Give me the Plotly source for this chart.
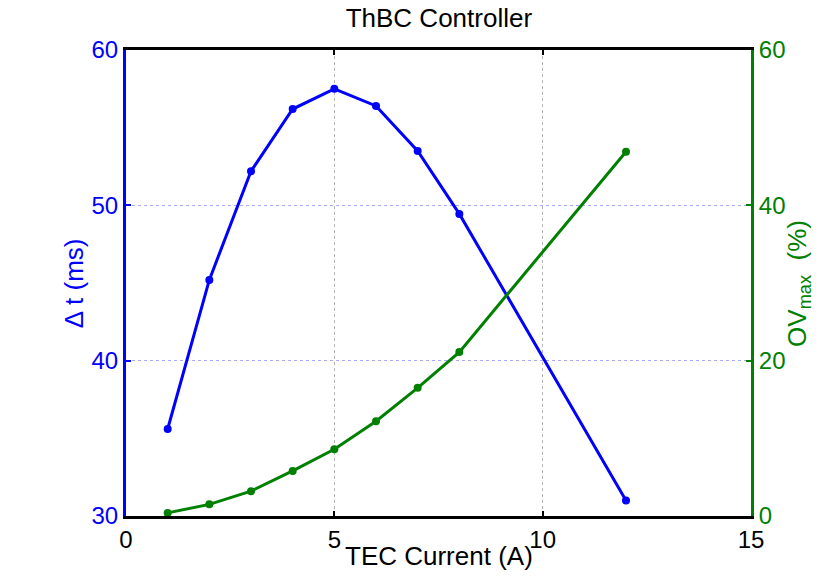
import plotly.graph_objects as go

current = [1, 2, 3, 4, 5, 6, 7, 8, 12]
delta_t = [35.6, 45.2, 52.2, 56.2, 57.5, 56.4, 53.5, 49.45, 31.0]
ov_max = [0.4, 1.5, 3.2, 5.8, 8.6, 12.2, 16.5, 21.1, 46.9]

x_ticks = [0, 5, 10, 15]
y1_ticks = [30, 40, 50, 60]
y2_ticks = [0, 20, 40, 60]

BLUE = "#0000ff"
GREEN = "#008000"
FONT = "Liberation Sans, Arial, sans-serif"
TICK = 24
LAB = 26

fig = go.Figure()
fig.add_trace(go.Scatter(x=current, y=delta_t, mode="lines+markers",
                         line=dict(color=BLUE, width=3),
                         marker=dict(color=BLUE, size=8),
                         yaxis="y", showlegend=False))
fig.add_trace(go.Scatter(x=current, y=ov_max, mode="lines+markers",
                         line=dict(color=GREEN, width=3),
                         marker=dict(color=GREEN, size=8),
                         yaxis="y2", showlegend=False))

fig.update_layout(
    width=825, height=583,
    margin=dict(l=126, r=74, t=50, b=67),
    paper_bgcolor="white", plot_bgcolor="white",
    font=dict(family=FONT, size=TICK, color="black"),
    title=dict(text="ThBC Controller", x=0.532, xanchor="center", y=0.969, yanchor="middle",
               font=dict(family=FONT, size=LAB, color="black")),
    xaxis=dict(range=[0, 15], tickvals=x_ticks, ticktext=[str(v) for v in x_ticks],
               showgrid=True, gridcolor="#b4b4b4", griddash="dot", gridwidth=1,
               showline=True, linecolor="black", linewidth=3, mirror="ticks",
               ticks="inside", ticklen=5, tickwidth=2, tickcolor="black",
               zeroline=False,
               tickfont=dict(family=FONT, size=TICK, color="black")),
    yaxis=dict(range=[30, 60], tickvals=y1_ticks, ticktext=[str(v) for v in y1_ticks],
               showgrid=True, gridcolor="#a8a8ff", griddash="dot", gridwidth=1,
               showline=True, linecolor=BLUE, linewidth=3,
               ticks="inside", ticklen=5, tickwidth=2, tickcolor=BLUE,
               zeroline=False,
               tickfont=dict(family=FONT, size=TICK, color=BLUE)),
    yaxis2=dict(range=[0, 60], tickvals=y2_ticks, ticktext=[str(v) for v in y2_ticks],
                overlaying="y", side="right", showgrid=False,
                showline=True, linecolor=GREEN, linewidth=3,
                ticks="inside", ticklen=5, tickwidth=2, tickcolor=GREEN,
                zeroline=False,
                tickfont=dict(family=FONT, size=TICK, color=GREEN)),
    annotations=[
        dict(text="TEC Current (A)", xref="paper", yref="paper", x=0.5, y=-0.086,
             xanchor="center", yanchor="middle", showarrow=False,
             font=dict(family=FONT, size=LAB, color="black")),
        dict(text="Δ t (ms)", xref="paper", yref="paper", x=-0.083, y=0.5,
             xanchor="center", yanchor="middle", textangle=-90, showarrow=False,
             font=dict(family=FONT, size=LAB, color=BLUE)),
        dict(text="OV<sub>max</sub>  (%)", xref="paper", yref="paper", x=1.075, y=0.5,
             xanchor="center", yanchor="middle", textangle=-90, showarrow=False,
             font=dict(family=FONT, size=LAB, color=GREEN)),
    ],
)

fig.write_html("out.html")
